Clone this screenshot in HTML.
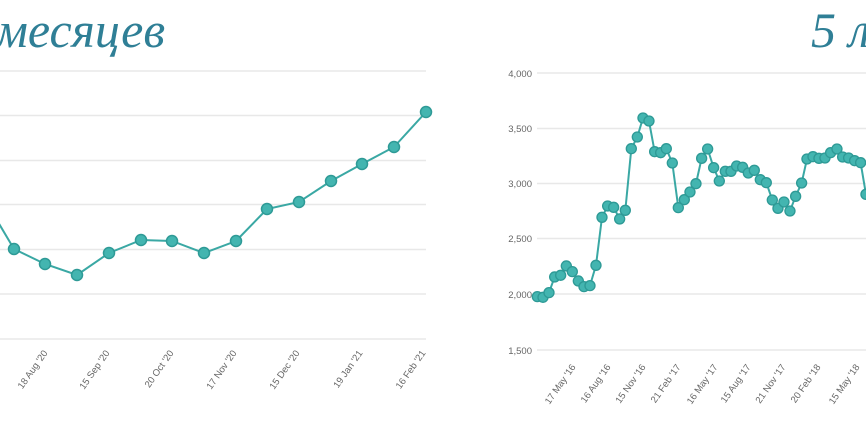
<!DOCTYPE html>
<html><head><meta charset="utf-8"><style>
html,body{margin:0;padding:0;background:#fff;width:866px;height:433px;overflow:hidden}
svg{display:block}
.t{font-family:"Liberation Serif",serif;font-style:italic;fill:#2f7f96;font-size:50px}
.ax{font-family:"Liberation Sans",sans-serif;font-size:9.5px;fill:#666}
</style></head><body>
<svg width="866" height="433" viewBox="0 0 866 433">
<text class="t" x="-4" y="47">месяцев</text>
<text class="t" x="811" y="47">5 л</text>
<g stroke="#e8e8e8" stroke-width="1.5">
<line x1="0" y1="71" x2="426" y2="71"/><line x1="0" y1="115.5" x2="426" y2="115.5"/>
<line x1="0" y1="160.5" x2="426" y2="160.5"/><line x1="0" y1="204.5" x2="426" y2="204.5"/>
<line x1="0" y1="249.5" x2="426" y2="249.5"/><line x1="0" y1="294" x2="426" y2="294"/>
<line x1="0" y1="339" x2="426" y2="339"/>
<line x1="537" y1="73" x2="866" y2="73"/><line x1="537" y1="128.5" x2="866" y2="128.5"/>
<line x1="537" y1="183.5" x2="866" y2="183.5"/><line x1="537" y1="238.5" x2="866" y2="238.5"/>
<line x1="537" y1="294" x2="866" y2="294"/><line x1="537" y1="350" x2="866" y2="350"/>
</g>
<g class="ax" text-anchor="end">
<text x="532" y="77">4,000</text><text x="532" y="132">3,500</text><text x="532" y="187">3,000</text>
<text x="532" y="242">2,500</text><text x="532" y="298">2,000</text><text x="532" y="354">1,500</text>
</g>
<g class="ax" text-anchor="end">
<text transform="translate(48,353) rotate(-55)">18 Aug '20</text>
<text transform="translate(110,353) rotate(-55)">15 Sep '20</text>
<text transform="translate(174,353) rotate(-55)">20 Oct '20</text>
<text transform="translate(237,353) rotate(-55)">17 Nov '20</text>
<text transform="translate(300,353) rotate(-55)">15 Dec '20</text>
<text transform="translate(363,353) rotate(-55)">19 Jan '21</text>
<text transform="translate(426,353) rotate(-55)">16 Feb '21</text>
<text transform="translate(576,367) rotate(-55)">17 May '16</text>
<text transform="translate(611,367) rotate(-55)">16 Aug '16</text>
<text transform="translate(646,367) rotate(-55)">15 Nov '16</text>
<text transform="translate(681,367) rotate(-55)">21 Feb '17</text>
<text transform="translate(718,367) rotate(-55)">16 May '17</text>
<text transform="translate(751,367) rotate(-55)">15 Aug '17</text>
<text transform="translate(786,367) rotate(-55)">21 Nov '17</text>
<text transform="translate(821,367) rotate(-55)">20 Feb '18</text>
<text transform="translate(860,367) rotate(-55)">15 May '18</text>
</g>
<polyline fill="none" stroke="#3aa8a4" stroke-width="2" points="-2,222 14,249 45,264 77,275 109,253 141,240 172,241 204,253 236,241 267,209 299,202 331,181 362,164 394,147 426,112"/>
<g fill="#43b5b0" stroke="#2e9a96" stroke-width="1.5">
<circle cx="14" cy="249" r="5.5"/><circle cx="45" cy="264" r="5.5"/><circle cx="77" cy="275" r="5.5"/><circle cx="109" cy="253" r="5.5"/><circle cx="141" cy="240" r="5.5"/><circle cx="172" cy="241" r="5.5"/><circle cx="204" cy="253" r="5.5"/><circle cx="236" cy="241" r="5.5"/><circle cx="267" cy="209" r="5.5"/><circle cx="299" cy="202" r="5.5"/><circle cx="331" cy="181" r="5.5"/><circle cx="362" cy="164" r="5.5"/><circle cx="394" cy="147" r="5.5"/><circle cx="426" cy="112" r="5.5"/>
</g>
<g transform="translate(433,0) scale(0.3333)">
<polyline id="p" fill="none" stroke="#3aa8a4" stroke-width="6" points="313,890 330,892 348,878 365,831 383,826 400,798 418,815 436,843 453,860 471,857 489,796 507,652 524,618 542,622 560,657 577,631 595,446 613,411 630,354 648,363 665,455 683,458 700,446 718,489 736,623 754,599 771,576 789,551 806,475 824,447 842,503 859,543 877,514 894,514 911,498 929,502 946,519 964,511 982,539 1000,548 1018,600 1035,625 1053,606 1071,633 1088,589 1106,549 1122,477 1140,470 1158,475 1176,474 1193,458 1212,447 1229,471 1247,474 1265,482 1283,488 1299,583 1320,600"/>
<g fill="#43b5b0" stroke="#2e9a96" stroke-width="4" id="dots"></g>
</g>
</svg>
<script>
var pts=document.getElementById('p').getAttribute('points').trim().split(/\s+/);
var g=document.getElementById('dots');
pts.slice(0,-1).forEach(function(s){var a=s.split(',');var c=document.createElementNS('http://www.w3.org/2000/svg','circle');c.setAttribute('cx',a[0]);c.setAttribute('cy',a[1]);c.setAttribute('r','15');g.appendChild(c);});
</script>
</body></html>
